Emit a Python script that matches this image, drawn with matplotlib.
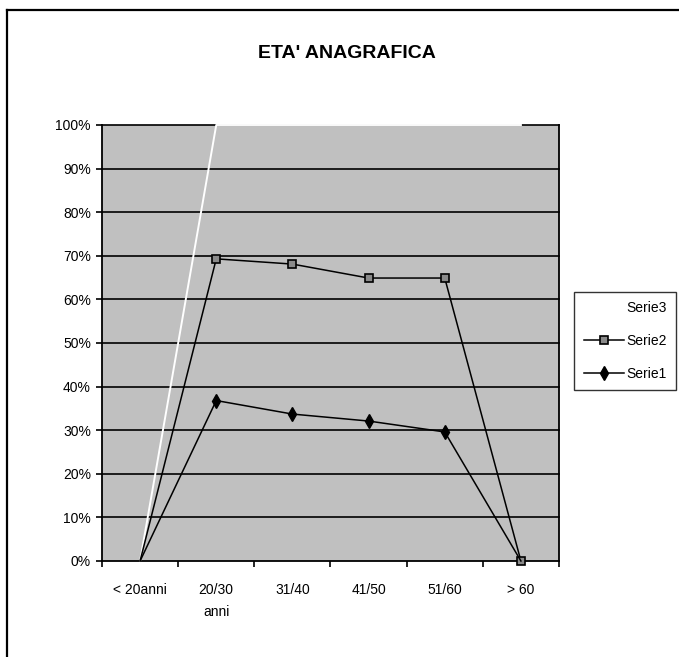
import matplotlib
matplotlib.use('Agg')
from matplotlib import pyplot as plt
from matplotlib.lines import Line2D
import numpy as np

plt.rcParams['font.family'] = ['Liberation Sans Narrow', 'Liberation Sans', 'DejaVu Sans']

# dati
categorie = ['< 20anni', '20/30\nanni', '31/40', '41/50', '51/60', '> 60']
serie1 = [0, 36.8, 33.7, 32.1, 29.6, 0]
serie2 = [0, 69.3, 68.1, 64.9, 64.9, 0]
serie3 = [0, 100, 100, 100, 100, 100]
titolo = "ETA' ANAGRAFICA"

fig = plt.figure(figsize=(6.79, 6.57), dpi=100)
ax = fig.add_axes([102/679, 1 - 561/657, (559 - 102)/679, (561 - 125)/657])
ax.set_facecolor('#c0c0c0')

x = np.arange(len(categorie))
s1 = np.array(serie1) / 100
s2 = np.array(serie2) / 100
s3 = np.array(serie3) / 100

ax.plot(x, s3, color='white', lw=1.4, label='Serie3', clip_on=False, zorder=3)
ax.plot(x, s2, color='black', lw=1.1, marker='s', ms=5.5, mfc='#8a8a8a', mec='black',
        mew=1.2, markevery=[1, 2, 3, 4, 5], label='Serie2', clip_on=False, zorder=4)
ax.plot(x, s1, color='black', lw=1.1, marker='d', ms=7.5, mfc='black', mec='black',
        markevery=[1, 2, 3, 4], label='Serie1', clip_on=False, zorder=5)

ax.set_xlim(-0.5, len(categorie) - 0.5)
ax.set_ylim(0, 1)

# griglia orizzontale
for v in np.arange(0.1, 1.01, 0.1):
    ax.axhline(v, color='black', lw=1.2, zorder=1, clip_on=False)

yt = np.arange(0, 1.01, 0.1)
ax.set_yticks(yt)
ax.set_yticklabels([f'{int(round(v*100))}%' for v in yt])
ax.set_xticks(x)
ax.set_xticklabels(categorie, linespacing=1.7, va='top')
ax.set_xticks(np.arange(-0.5, len(categorie)), minor=True)
ax.tick_params(axis='x', which='major', length=0, pad=16, labelsize=10)
ax.tick_params(axis='x', which='minor', length=4, width=1.2, direction='out')
ax.tick_params(axis='y', length=4, width=1.2, direction='out', pad=4, labelsize=10)

for sp in ['left', 'right', 'bottom']:
    ax.spines[sp].set_color('black')
    ax.spines[sp].set_linewidth(1.3)
ax.spines['top'].set_visible(False)

fig.text(347/679, 1 - 54/657, titolo, ha='center', va='center',
         fontsize=14, fontweight='bold')

leg = ax.legend(loc='center left', bbox_to_anchor=(574/679, 1 - 341/657),
                bbox_transform=fig.transFigure, fontsize=10, frameon=True,
                fancybox=False, handlelength=2.9, handletextpad=0.15,
                borderpad=0.7, labelspacing=1.35, borderaxespad=0)
leg.get_frame().set_edgecolor('black')
leg.get_frame().set_linewidth(1.0)

# cornice
fig.add_artist(Line2D([7/679, 7/679], [0, 1 - 10/657], color='black', lw=1.6,
                      transform=fig.transFigure))
fig.add_artist(Line2D([7/679, 1], [1 - 10/657, 1 - 10/657], color='black', lw=1.6,
                      transform=fig.transFigure))

fig.savefig('out.png', dpi=100)
